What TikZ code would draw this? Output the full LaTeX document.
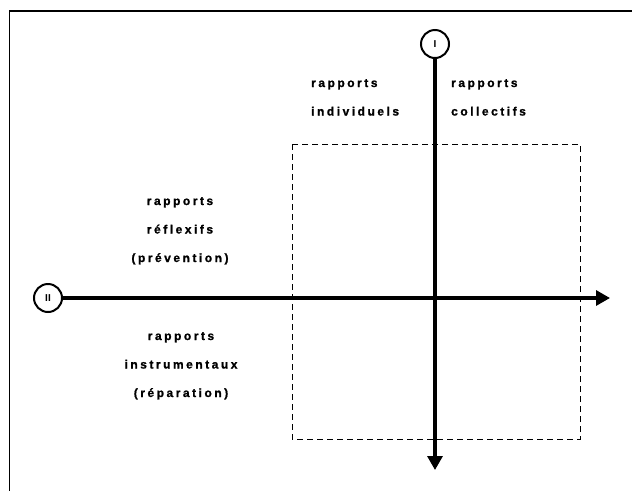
\documentclass[tikz,border=0pt]{standalone}
\usepackage{fontspec}
\setmainfont{Liberation Sans}
\newfontfamily\rapfont[LetterSpace=21, FakeBold=1.2]{Liberation Sans}
\usetikzlibrary{arrows.meta, positioning}

\tikzset{
  axe/.style={line width=3.2pt, -{Triangle[length=14pt, width=15pt]}},
  rond/.style={circle, draw, line width=2pt, minimum size=28pt, inner sep=0pt,
    font=\bfseries\fontsize{10}{10}\selectfont},
  quad/.style={line width=0.9pt, dash pattern=on 6pt off 4pt},
  rapp/.style={font=\rapfont\bfseries\fontsize{12}{28.5}\selectfont, inner sep=0pt}
}

\begin{document}
\begin{tikzpicture}[x=1pt, y=-1pt]
\useasboundingbox (0,0) rectangle (632,491);
% --- cadre ---
\draw[line width=1.5pt] (632,11) -- (9.5,11) -- (9.5,491);
\draw[quad] (292,144) rectangle (580,439);
% --- axes ---
\node[rond] (I) at (435,44) {I};
\node[rond] (II) at (48,298) {II};
\coordinate (finI) at (435,470);
\coordinate (finII) at (610,298);
\draw[axe] (I) -- (finI);
\draw[axe] (II) -- (finII);
% --- textes ---
\node[rapp, align=left, anchor=base west] (indiv) at (311,115.5) {rapports\\individuels};
\node[rapp, align=left, anchor=base west] (coll) at (451,115.5) {rapports\\collectifs};
\node[rapp, align=center, anchor=base] (refl) at (180,262) {rapports\\réflexifs\\(prévention)};
\node[rapp, align=center, anchor=base] (instr) at (181,397) {rapports\\instrumentaux\\(réparation)};
\end{tikzpicture}
\end{document}
